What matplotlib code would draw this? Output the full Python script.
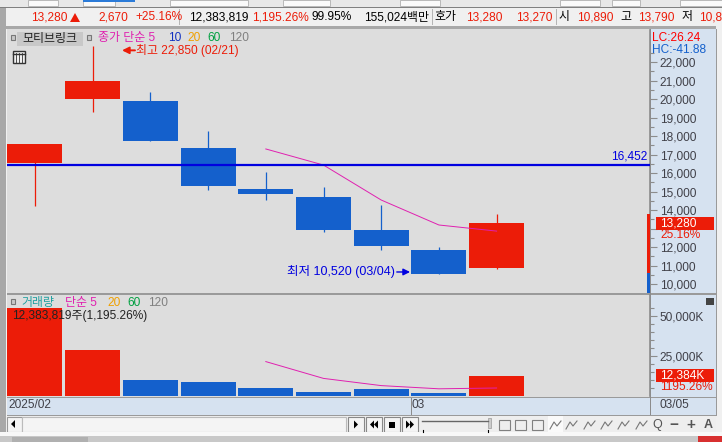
import matplotlib
matplotlib.use('Agg')
import matplotlib.pyplot as plt
from matplotlib.patches import Rectangle, Polygon
from matplotlib.ticker import FixedLocator, FuncFormatter

plt.rcParams['font.family'] = ['Liberation Sans', 'Noto Sans CJK KR', 'DejaVu Sans']

W, H = 722, 442

# 시세 데이터
days = list(range(9))
opens = [16540, 20000, 19890, 17350, 15135, 14700, 12920, 11840, 10850]
closes = [17570, 20970, 17730, 15300, 14865, 12920, 12050, 10540, 13280]
highs = [17570, 22850, 20380, 18270, 16050, 15240, 14270, 12000, 13790]
lows = [14216, 19300, 17730, 15080, 14540, 12810, 11840, 10520, 10810]
volumes = [55000, 29000, 10000, 8700, 5000, 2500, 4400, 2000, 12384]
ma_days = [4, 5, 6, 7, 8]
price_ma = [17300, 16430, 14540, 13190, 12860]
volume_ma = [21500, 11000, 6500, 4500, 5000]
pivot = 16452
price_ticks = list(range(10000, 23000, 1000))
volume_ticks = [25000, 50000]

RED = '#EC1C08'
BLUE = '#1460CC'
GRAY_BG = '#DDDDDD'
AXIS_BG = '#D6E2F0'
EDGE = '#8C8C8C'
TXT = '#404048'
FS = 8.6
STEP = 57.7  # 봉 간격(px)


def pixel_axes(z):
    a = fig.add_axes([0, 0, 1, 1], zorder=z)
    a.set_xlim(0, W)
    a.set_ylim(H, 0)
    a.axis('off')
    a.patch.set_alpha(0)
    return a


def box(a, x0, y0, x1, y1, color, ec='none', lw=0.8):
    a.add_patch(Rectangle((x0, y0), x1 - x0, y1 - y0, fc=color, ec=ec, lw=lw))


def data_axes(y0, y1, ylim):
    a = fig.add_axes([7 / W, 1 - y1 / H, 643 / W, (y1 - y0) / H], zorder=2)
    a.patch.set_alpha(0)
    a.set_xlim((7 - 35) / STEP, (650 - 35) / STEP)
    a.set_ylim(*ylim)
    for s in ['left', 'top', 'bottom']:
        a.spines[s].set_visible(False)
    a.spines['right'].set_color(EDGE)
    a.spines['right'].set_linewidth(1.2)
    a.set_xticks([])
    a.yaxis.tick_right()
    a.tick_params(axis='y', which='major', length=5, width=0.8, color=EDGE, labelcolor=TXT, labelsize=FS, pad=2)
    a.tick_params(axis='y', which='minor', length=3, width=0.8, color=EDGE)
    return a


def price_label(v, _):
    # 13,000 자리는 현재가 박스에 가려져 있음
    return '' if int(v) == 13000 else f'{int(v):,}'


fig = plt.figure(figsize=(W / 100, H / 100), dpi=100, facecolor='#F0F0F0')
ui = pixel_axes(0)
top = pixel_axes(5)

# 바탕
box(ui, 0, 0, W, 7, '#E8E8E8')
box(ui, 0, 7, W, 8, '#808080')
box(ui, 0, 8, 6, 442, '#A8A8A8')
box(ui, 6, 8, W, 26, '#F0F0F0')
box(ui, 0, 26, W, 29, '#A8A8A8')
box(ui, 7, 29, 650, 397, GRAY_BG)
box(ui, 650, 29, 716, 415, AXIS_BG)
box(ui, 7, 397, 650, 415, AXIS_BG)
box(ui, 716, 26, 722, 436, '#F0F0F0')
box(ui, 7, 293, 716, 294.5, '#9A9A9A')
box(ui, 7, 396.5, 716, 398, '#9A9A9A')
box(ui, 7, 414.5, 716, 416, '#9A9A9A')
box(ui, 716, 29, 717, 416, '#9A9A9A')
box(ui, 650.3, 29, 651.3, 415, EDGE)

# 상단 도구줄
for x0, x1 in [(28, 58), (83, 115), (170, 248), (283, 330), (400, 440), (560, 600), (612, 640), (680, 722)]:
    box(ui, x0, 0, x1, 6, '#FAFAFA', ec='#B0B0B0', lw=0.6)
box(ui, 83, 0, 135, 2, '#2B7BD8')
for x in [179, 432, 556]:
    box(ui, x, 9, x + 1, 25, '#B5B5B5')

# 시세 줄
for x, s, c in [(31, '13,280', RED), (98, '2,670', RED), (135, '+25.16%', RED),
                (189, '12,383,819', 'black'), (252, '1,195.26%', RED), (312, '99.95%', 'black'),
                (364, '155,024백만', 'black'), (434, '호가', 'black'), (466, '13,280', RED), (516, '13,270', RED),
                (559, '시', 'black'), (577, '10,890', RED), (620, '고', 'black'), (638, '13,790', RED),
                (682, '저', 'black'), (699, '10,8', RED)]:
    top.text(x, 17, s, color=c, fontsize=FS, va='center', ha='left')
top.add_patch(Polygon([(70, 22), (80, 22), (75, 13)], fc=RED))

# 가격 차트
price_ax = data_axes(30, 292, (9568, 23730))
for d, o, c, h, l in zip(days, opens, closes, highs, lows):
    color = RED if c >= o else BLUE
    price_ax.vlines(d, l, h, color=color, lw=0.9, zorder=2)
    price_ax.bar(d, abs(c - o), bottom=min(o, c), width=55 / STEP, color=color, zorder=3)
price_ax.plot(ma_days, price_ma, color='#E020B0', lw=0.7, zorder=4)
price_ax.axhline(pivot, color='#0000E0', lw=1.6, zorder=5)
price_ax.text(0.996, pivot + 130, f'{pivot:,}', color='#0000E0', fontsize=FS, ha='right', va='bottom', zorder=6,
              transform=price_ax.get_yaxis_transform())
price_ax.yaxis.set_major_locator(FixedLocator(price_ticks))
price_ax.yaxis.set_minor_locator(FixedLocator([p + 500 for p in price_ticks]))
price_ax.yaxis.set_major_formatter(FuncFormatter(price_label))

# 최고/최저 표시
high_y = 22630
low_y = 10650
price_ax.annotate('', xy=(1.508, high_y), xytext=(1.733, high_y),
                  arrowprops=dict(arrowstyle='-|>', color=RED, lw=1.4, shrinkA=0, shrinkB=0))
price_ax.text(1.75, high_y, '최고 22,850 (02/21)', color=RED, fontsize=FS, va='center', zorder=6)
price_ax.annotate('', xy=(6.5, low_y), xytext=(6.27, low_y),
                  arrowprops=dict(arrowstyle='-|>', color='#0000E0', lw=1, shrinkA=0, shrinkB=0))
price_ax.text(6.24, low_y, '최저 10,520 (03/04)', color='#0000E0', fontsize=9, va='center', ha='right', zorder=6)

# 거래량 차트
vol_ax = data_axes(295, 396, (0, 63125))
vol_ax.bar(days, volumes, width=55 / STEP, color=[RED if c >= o else BLUE for o, c in zip(opens, closes)], zorder=3)
vol_ax.plot(ma_days, volume_ma, color='#E020B0', lw=0.7, zorder=4)
vol_ax.yaxis.set_major_locator(FixedLocator(volume_ticks))
vol_ax.yaxis.set_minor_locator(FixedLocator([v for v in range(5000, 60000, 5000) if v not in volume_ticks]))
vol_ax.yaxis.set_major_formatter(FuncFormatter(lambda v, _: f'{int(v):,}K'))

# 범례
box(top, 10.5, 35, 15, 40, '#C8C8C8', ec='#777777')
box(top, 17, 32, 83, 46, '#C8C8C8')
top.text(50, 39, '모티브링크', color='#222222', fontsize=FS, ha='center', va='center')
box(top, 86.5, 35, 91, 40, '#C8C8C8', ec='#777777')
for x, s, c in [(98, '종가 단순 5', '#E020B0'), (168, '10', '#1030C0'), (187, '20', '#F0A000'),
                (207, '60', '#00A040'), (229, '120', '#808080')]:
    top.text(x, 38, s, color=c, fontsize=FS, va='center')
box(top, 13, 51, 25, 63, '#F0F0F0', ec='#333333', lw=1)
for x in [16, 19, 22]:
    top.plot([x, x], [53, 63], color='#333333', lw=0.6)
top.plot([13, 25], [54, 54], color='#333333', lw=1)

box(top, 10.5, 299, 15, 304, '#C8C8C8', ec='#777777')
for x, s, c in [(21, '거래량', '#20A0A0'), (65, '단순 5', '#E020B0'), (107, '20', '#F0A000'),
                (127, '60', '#00A040'), (148, '120', '#808080')]:
    top.text(x, 303, s, color=c, fontsize=FS, va='center')
top.text(12, 316, '12,383,819주(1,195.26%)', color='#222222', fontsize=FS, va='center')

# 오른쪽 표시
box(top, 647, 214, 650, 273, RED)
box(top, 647, 273, 650, 293, BLUE)
box(top, 656, 217, 714, 230, RED)
top.text(660, 223.5, f'{closes[8]:,}', color='white', fontsize=FS, va='center')
top.text(660, 235.5, '25.16%', color=RED, fontsize=FS, va='center')
top.text(652, 38, 'LC:26.24', color='#FF0000', fontsize=FS, va='center')
top.text(652, 50, 'HC:-41.88', color=BLUE, fontsize=FS, va='center')
box(top, 706, 298, 714, 305, '#444444')
box(top, 656, 369, 714, 382, RED)
top.text(660, 375.5, '12,384K', color='white', fontsize=FS, va='center')
top.text(660, 387, '1195.26%', color=RED, fontsize=FS, va='center')

# 날짜 줄
top.text(8, 405, '2025/02', color=TXT, fontsize=FS, va='center')
box(top, 410.5, 398, 411.5, 415, EDGE)
top.text(412, 405, '03', color=TXT, fontsize=FS, va='center')
top.text(660, 405, '03/05', color=TXT, fontsize=FS, va='center')

# 하단 스크롤 줄
box(ui, 7, 416, 716, 432, '#EEEEEE')
box(ui, 7, 417, 22, 432, '#F4F4F4', ec='#999999')
top.add_patch(Polygon([(11, 424), (15, 420), (15, 428)], fc='black'))
box(ui, 22, 417, 346, 432, '#F4F4F4', ec='#BBBBBB')
for x0, kind in [(348, 1), (366, 2), (384, 0), (402, 3)]:
    box(ui, x0, 417, x0 + 16, 432, '#F4F4F4', ec='#888888')
    cx, cy = x0 + 8, 424.5
    if kind == 0:
        box(top, cx - 3, cy - 3, cx + 3, cy + 3, 'black')
    elif kind == 1:
        top.add_patch(Polygon([(cx - 2, cy - 4), (cx + 2, cy), (cx - 2, cy + 4)], fc='black'))
    else:
        sign = -1 if kind == 2 else 1
        for off in [-4, 0]:
            top.add_patch(Polygon([(cx + sign * off, cy - 4), (cx + sign * (off + 4), cy), (cx + sign * off, cy + 4)], fc='black'))
top.plot([422, 488], [421, 421], color='#666666', lw=1)
top.plot([423, 423], [430, 432], color='black', lw=0.8)
top.plot([488, 488], [430, 432], color='black', lw=0.8)
box(top, 488, 418, 491, 428, '#CCCCCC', ec='#999999', lw=0.5)
# 도구 아이콘
box(ui, 548, 416, 563, 432, '#FAFAFA')
for x in [499, 515, 532]:
    box(top, x, 420, x + 11, 430, 'none', ec='#808080', lw=0.8)
for x in [550, 566, 584, 601, 618, 636]:
    top.plot([x, x + 4, x + 7, x + 11], [429, 422, 426, 421], color='#777777', lw=0.8)
top.text(657, 425, 'Q', color='#555555', fontsize=9, ha='center', va='center')
top.text(674, 425, '−', color='#555555', fontsize=11, ha='center', va='center', fontweight='bold')
top.text(691, 425, '+', color='#555555', fontsize=11, ha='center', va='center', fontweight='bold')
top.text(708, 425, 'A', color='#555555', fontsize=9, ha='center', va='center', fontweight='bold')
box(ui, 0, 432, W, 436, '#F8F8F8')
box(ui, 0, 436, W, 442, '#C8C8C8')
box(ui, 12, 437, 88, 442, '#B0B0B0')
box(ui, 698, 436, W, 442, '#D83030')

fig.savefig('out.png', dpi=100, facecolor=fig.get_facecolor())
